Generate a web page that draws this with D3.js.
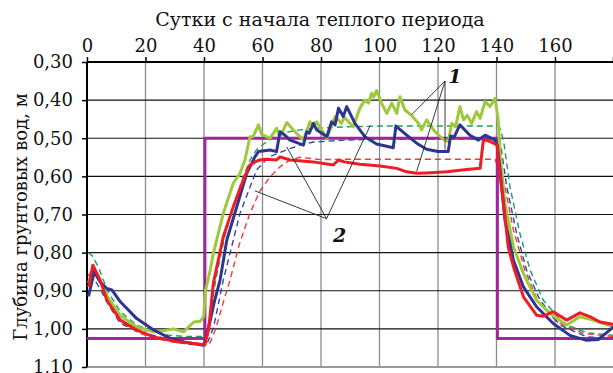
<!DOCTYPE html>
<html><head><meta charset="utf-8">
<script src="https://cdn.jsdelivr.net/npm/d3@7"></script>
<style>body{margin:0;background:#fff}svg{display:block}</style>
</head><body>
<script>
// ---- data ----
const xTicks = [0,20,40,60,80,100,120,140,160];
const yTicks = [0.30,0.40,0.50,0.60,0.70,0.80,0.90,1.00,1.10];
const xTitle = "Сутки с начала теплого периода";
const yTitle = "Глубина грунтовых вод, м";

// purple: water level regime (step)
const purpleLine = [[0,1.025],[40.3,1.025],[40.3,0.50],[140.3,0.50],[140.3,1.025],[180,1.025]];

// observed (solid)
const greenObs = [[0.5,0.88],[2,0.845],[4.5,0.875],[7,0.915],[11.4,0.965],[17,0.995],[22.8,1.008],[26,1.005],[29.6,1.0],[33,1.008],[36.5,0.982],[38.7,0.98],[39.9,0.968],[40.5,0.90],[42,0.85],[43.2,0.802],[46.6,0.697],[50,0.618],[52.3,0.592],[54,0.557],[55.7,0.496],[56.8,0.496],[58.6,0.465],[59.7,0.49],[62.6,0.50],[64.8,0.474],[66,0.496],[68.3,0.459],[71.1,0.483],[74,0.505],[76.2,0.457],[77.4,0.47],[78.5,0.457],[82,0.50],[84.8,0.443],[87,0.461],[88,0.445],[91,0.47],[93.3,0.421],[95,0.40],[96.2,0.408],[97.3,0.382],[98,0.392],[99,0.375],[100.7,0.408],[102.5,0.435],[104.2,0.408],[105.9,0.435],[107,0.391],[108.7,0.426],[111,0.44],[113.3,0.461],[114.4,0.478],[116.1,0.452],[119,0.483],[121.3,0.50],[123.5,0.509],[124.7,0.461],[126,0.47],[127.5,0.417],[128.7,0.452],[130,0.44],[131.5,0.461],[133.2,0.43],[134.4,0.448],[136.1,0.404],[137.8,0.417],[139.5,0.395],[140.6,0.452],[141.2,0.54],[142.9,0.671],[145.8,0.785],[149.2,0.855],[153.7,0.925],[158.3,0.96],[164,0.99],[168.5,0.968],[173.1,0.977],[180,0.995]];
const blueObs = [[0.5,0.915],[2.5,0.85],[4.5,0.877],[6.8,0.894],[8.5,0.898],[11.4,0.929],[17,0.973],[22.8,1.003],[28.5,1.025],[34.2,1.036],[39.9,1.043],[41.5,1.0],[43.5,0.93],[45.5,0.872],[47.8,0.767],[51.2,0.68],[54.6,0.592],[57.4,0.549],[58.6,0.535],[62.6,0.531],[64.8,0.535],[66,0.483],[67.7,0.492],[69.4,0.505],[72.2,0.513],[74,0.518],[75.1,0.483],[76,0.487],[77.4,0.461],[78.5,0.478],[82,0.496],[83.6,0.457],[84.8,0.465],[86,0.421],[87.6,0.443],[88.8,0.417],[91.6,0.461],[95,0.496],[99,0.515],[104.7,0.525],[105.6,0.468],[109.3,0.492],[112.7,0.513],[116.1,0.529],[120,0.535],[123.5,0.535],[124.3,0.494],[125.5,0.497],[127.5,0.465],[130.9,0.492],[133.8,0.505],[136.1,0.492],[139.5,0.505],[140.3,0.52],[141.2,0.583],[142.9,0.715],[145.8,0.82],[149.2,0.89],[153.7,0.942],[159.4,0.986],[165.1,1.017],[170.8,1.03],[174.8,1.028],[180,0.995]];
const redObs = [[0.6,0.89],[2,0.833],[4.5,0.872],[6.8,0.925],[11.4,0.977],[17,1.003],[22.8,1.021],[30.8,1.034],[38.7,1.04],[40.3,1.042],[41.6,1.0],[43.2,0.88],[46.6,0.758],[50,0.68],[53.4,0.61],[55.7,0.57],[58,0.56],[59.1,0.557],[61.4,0.555],[64.8,0.557],[66,0.549],[69.4,0.557],[77.4,0.562],[84.2,0.57],[86,0.557],[88,0.562],[93.3,0.568],[100.2,0.573],[105.9,0.579],[109.3,0.588],[112.7,0.592],[116.1,0.591],[123,0.588],[129.8,0.582],[134.4,0.579],[135.5,0.505],[136.7,0.505],[139,0.513],[140.2,0.518],[141,0.583],[142.4,0.671],[144,0.785],[145.8,0.837],[149.2,0.916],[153.7,0.964],[156,0.967],[159.4,0.955],[164,0.977],[168.5,0.958],[171.9,0.968],[175.4,0.982],[180,0.988]];

// modelled (dashed)
const greenMod = [[0.5,0.80],[2,0.81],[4,0.84],[7,0.90],[11.4,0.955],[17,0.99],[22.8,1.008],[28.4,1.017],[34,1.02],[40.5,1.02],[42,0.97],[44,0.872],[47,0.76],[50,0.68],[53,0.61],[55.7,0.557],[58,0.53],[61.4,0.509],[66,0.487],[72.8,0.478],[77.4,0.474],[88.8,0.47],[100,0.468],[140,0.468],[141,0.47],[142.4,0.505],[144.6,0.627],[148,0.75],[151.5,0.846],[156,0.925],[162.9,0.986],[170.8,1.01],[180,1.017]];
const blueMod = [[0.5,0.86],[2.5,0.87],[4.5,0.895],[6.8,0.93],[11.3,0.985],[17,1.005],[22.8,1.017],[30,1.032],[34,1.04],[40,1.042],[41,1.04],[43.3,0.995],[46.6,0.872],[52.3,0.697],[58,0.583],[62,0.55],[69.4,0.527],[72.8,0.518],[77.4,0.51],[88,0.505],[100,0.502],[140,0.502],[141.2,0.505],[143.5,0.627],[146.9,0.75],[150.3,0.846],[154.9,0.925],[161.7,0.99],[170.8,1.021],[180,1.025]];
const redMod = [[0.5,0.86],[2,0.845],[4.5,0.875],[7,0.93],[11.4,0.98],[17,1.008],[22.8,1.025],[30,1.035],[40,1.04],[42,1.038],[44,1.0],[46.6,0.93],[48.9,0.872],[52,0.78],[55.7,0.697],[59,0.64],[62.6,0.601],[66,0.575],[69.4,0.557],[72.8,0.55],[80,0.556],[90,0.555],[135,0.555],[139.5,0.555],[142.9,0.627],[145.8,0.741],[149.7,0.846],[154.3,0.929],[160.6,0.982],[169.7,1.012],[180,1.02]];

// leader lines: label, anchor [day, depth] and target points [day, depth]
const label1 = {text:"1", at:[123.5,0.355], apex:[122.4,0.350], targets:[[111,0.438],[112.7,0.587],[122.4,0.530]]};
const label2 = {text:"2", at:[84.1,0.772], apex:[81.9,0.711], targets:[[96.8,0.467],[68.3,0.523],[57.4,0.638]]};

// ---- drawing ----
const W = 613, H = 373;
const x = d3.scaleLinear().domain([0,180]).range([87,613.5]);
const y = d3.scaleLinear().domain([0.30,1.10]).range([62,367]);
const svg = d3.select("body").append("svg").attr("width",W).attr("height",H);
const font = "'DejaVu Serif', serif";

// vertical grid
svg.append("g").selectAll("line").data(xTicks.filter(d=>d>0)).join("line")
  .attr("x1",d=>x(d)).attr("x2",d=>x(d)).attr("y1",y(0.30)).attr("y2",y(1.10))
  .attr("stroke","#8c8c8c").attr("stroke-width",1.3);
// horizontal grid
svg.append("g").selectAll("line").data(yTicks.filter(d=>d>0.31 && d<1.09)).join("line")
  .attr("x1",x(0)).attr("x2",W).attr("y1",d=>y(d)).attr("y2",d=>y(d))
  .attr("stroke","#111").attr("stroke-width",1.2);
svg.append("line").attr("x1",x(0)).attr("x2",W).attr("y1",y(1.10)).attr("y2",y(1.10))
  .attr("stroke","#999").attr("stroke-width",2);

// top axis
const xAxis = d3.axisTop(x).tickValues(xTicks).tickSize(5).tickFormat(d3.format("d"));
const gx = svg.append("g").attr("transform",`translate(0,${y(0.30)})`).call(xAxis);
gx.select(".domain").attr("d",`M${x(0)},0H${W}`).attr("stroke","#000").attr("stroke-width",2);
gx.selectAll(".tick line").attr("stroke","#000").attr("stroke-width",1.5);
gx.selectAll(".tick text").attr("font-family",font).attr("font-size",18).attr("fill","#111").attr("dy",-2);
svg.append("g").attr("transform",`translate(0,${y(0.30)})`).selectAll("line").data([180]).join("line")
  .attr("x1",d=>x(d)).attr("x2",d=>x(d)).attr("y1",-5).attr("y2",0).attr("stroke","#000").attr("stroke-width",1.5);

// left axis
const yAxis = d3.axisLeft(y).tickValues(yTicks).tickSize(5).tickFormat(d=>d3.format(".2f")(d).replace(".",","));
const gy = svg.append("g").attr("transform",`translate(${x(0)},0)`).call(yAxis);
gy.select(".domain").attr("d",`M0,${y(0.30)}V${y(1.10)}`).attr("stroke","#000").attr("stroke-width",2);
gy.selectAll(".tick line").attr("stroke","#000").attr("stroke-width",1.5);
gy.selectAll(".tick text").attr("font-family",font).attr("font-size",18).attr("fill","#111").attr("x",-14);

// titles
svg.append("text").attr("x",320).attr("y",26).attr("text-anchor","middle")
  .attr("font-family",font).attr("font-size",19).attr("fill","#111").text(xTitle);
svg.append("text").attr("transform",`translate(27,217) rotate(-90)`).attr("text-anchor","middle")
  .attr("font-family",font).attr("font-size",18).attr("fill","#111").text(yTitle);

const line = d3.line().x(d=>x(d[0])).y(d=>y(d[1]));
const clip = svg.append("clipPath").attr("id","c").append("rect")
  .attr("x",x(0)).attr("y",y(0.30)).attr("width",W-x(0)).attr("height",y(1.10)-y(0.30));
const plot = svg.append("g").attr("clip-path","url(#c)");

// dashed model lines
[[greenMod,"#1f9e55"],[redMod,"#f03a3a"],[blueMod,"#3a44a8"]].forEach(([d,c])=>{
  plot.append("path").datum(d).attr("d",line).attr("fill","none").attr("stroke",c)
    .attr("stroke-width",1.4).attr("stroke-dasharray","6,4");
});
// purple regime
plot.append("path").datum(purpleLine).attr("d",line).attr("fill","none")
  .attr("stroke","#a3259c").attr("stroke-width",3);
// observed
[[greenObs,"#9dc93a"],[blueObs,"#2c3592"],[redObs,"#ee1c24"]].forEach(([d,c])=>{
  plot.append("path").datum(d).attr("d",line).attr("fill","none").attr("stroke",c)
    .attr("stroke-width",3).attr("stroke-linejoin","round");
});

// leader lines and labels
[label1,label2].forEach(L=>{
  svg.append("g").selectAll("line").data(L.targets).join("line")
    .attr("x1",x(L.apex[0])).attr("y1",y(L.apex[1])).attr("x2",d=>x(d[0])).attr("y2",d=>y(d[1]))
    .attr("stroke","#222").attr("stroke-width",0.9);
  svg.append("text").attr("x",x(L.at[0])).attr("y",y(L.at[1])).attr("font-family",font)
    .attr("font-size",19).attr("font-style","italic").attr("font-weight","bold").attr("fill","#111").text(L.text);
});
</script>
</body></html>
